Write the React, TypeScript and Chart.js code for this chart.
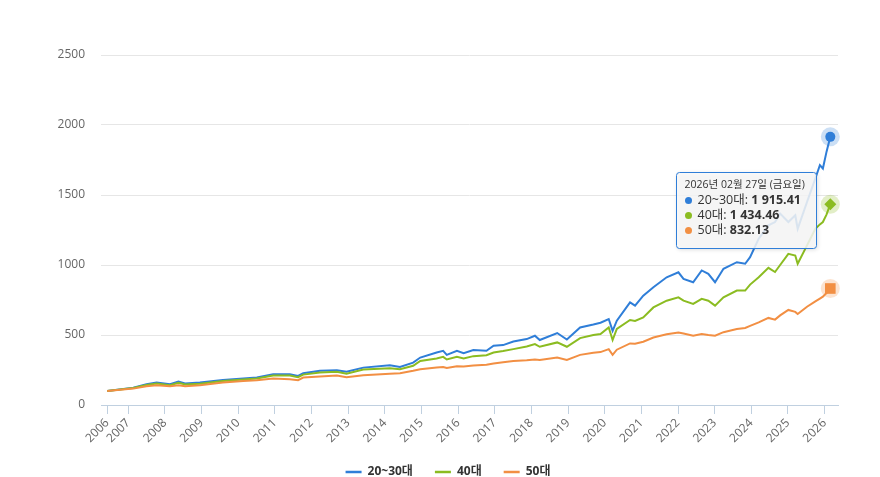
import { useEffect, useRef } from "react";
import { Chart, registerables } from "chart.js";

Chart.register(...registerables);

// ---- data (index, start = 100) ----
const dates = [
  "2006-06-05", "2007-02-20", "2007-07-01", "2007-10-10", "2008-02-20", "2008-05-15",
  "2008-07-20", "2008-12-15", "2009-08-01", "2010-02-20", "2010-07-05", "2010-12-15",
  "2011-05-30", "2011-08-20", "2011-10-10", "2012-03-25", "2012-09-10", "2012-12-15",
  "2013-06-01", "2014-02-20", "2014-06-01", "2014-10-10", "2014-12-20", "2015-06-01",
  "2015-08-05", "2015-09-10", "2015-12-20", "2016-02-25", "2016-06-01", "2016-10-10",
  "2016-12-20", "2017-03-25", "2017-07-05", "2017-11-15", "2018-02-05", "2018-03-25",
  "2018-09-15", "2018-12-20", "2019-05-01", "2019-09-10", "2019-11-20", "2020-02-10",
  "2020-03-20", "2020-05-01", "2020-09-10", "2020-10-30", "2021-01-20", "2021-05-01",
  "2021-09-10", "2022-01-05", "2022-02-25", "2022-06-01", "2022-08-25", "2022-10-30",
  "2023-01-05", "2023-03-30", "2023-08-10", "2023-11-01", "2023-12-20", "2024-03-15",
  "2024-06-20", "2024-08-25", "2024-10-15", "2025-01-05", "2025-03-15", "2025-04-08",
  "2025-07-10", "2025-10-01", "2025-11-15", "2025-12-15", "2026-01-20", "2026-02-27",
];

const age2030 = [
  100, 124, 148, 160, 148, 167, 153, 160, 179, 189, 196, 220,
  220, 208, 227, 244, 249, 237, 267, 284, 272, 303, 339, 375,
  387, 358, 387, 370, 392, 387, 423, 428, 454, 471, 495, 464,
  514, 468, 554, 575, 588, 614, 530, 602, 733, 710, 781, 841,
  912, 948, 901, 877, 961, 937, 877, 973, 1020, 1009, 1056, 1188,
  1283, 1307, 1367, 1307, 1355, 1259, 1450, 1618, 1713, 1689, 1808, 1915.41,
];

const age40 = [
  100, 121, 143, 153, 142, 158, 146, 152, 172, 183, 190, 210,
  211, 199, 217, 232, 237, 224, 253, 263, 256, 280, 315, 332,
  344, 325, 344, 332, 349, 356, 375, 385, 399, 418, 435, 416,
  447, 416, 478, 500, 507, 554, 464, 543, 607, 600, 626, 697,
  745, 769, 745, 722, 758, 745, 710, 769, 817, 817, 860, 912,
  980, 950, 1000, 1080, 1068, 1009, 1140, 1259, 1290, 1307, 1360, 1434.46,
];

const age50 = [
  100, 117, 134, 141, 134, 141, 134, 141, 160, 172, 177, 189,
  184, 177, 196, 203, 210, 199, 213, 224, 227, 244, 256, 267,
  272, 265, 277, 275, 282, 287, 296, 305, 315, 320, 325, 322,
  339, 322, 358, 373, 378, 399, 358, 395, 440, 437, 452, 482,
  505, 518, 510, 495, 507, 500, 495, 520, 543, 550, 565, 590,
  622, 610, 640, 679, 665, 650, 702, 740, 760, 774, 800, 832.13,
];

const seriesNames = ["20~30대", "40대", "50대"];
const seriesColors = ["#2f7ed8", "#8bbc21", "#f28f43"];
const seriesMarkers = ["circle", "rectRot", "rect"];
const yTickValues = [0, 500, 1000, 1500, 2000, 2500];
const xTickYears = [
  2007, 2008, 2009, 2010, 2011, 2012, 2013, 2014, 2015, 2016,
  2017, 2018, 2019, 2020, 2021, 2022, 2023, 2024, 2025, 2026,
];
const tooltipTitle = "2026년 02월 27일 (금요일)";

const FONT = "'Open Sans', 'Noto Sans CJK KR', sans-serif";

const toYear = (s: string) => {
  const [y, m, d] = s.split("-").map(Number);
  const t = Date.UTC(y, m - 1, d);
  const a = Date.UTC(y, 0, 1);
  const b = Date.UTC(y + 1, 0, 1);
  return y + (t - a) / (b - a);
};

const fmt = (v: number) => {
  const [i, d] = v.toFixed(2).split(".");
  return i.replace(/\B(?=(\d{3})+(?!\d))/g, " ") + "." + d;
};

const hexA = (hex: string, a: number) => {
  const n = parseInt(hex.slice(1), 16);
  return `rgba(${(n >> 16) & 255},${(n >> 8) & 255},${n & 255},${a})`;
};

const haloPlugin = {
  id: "halo",
  beforeDatasetsDraw(chart: any) {
    const ctx = chart.ctx;
    chart.data.datasets.forEach((ds: any, i: number) => {
      const meta = chart.getDatasetMeta(i);
      const el = meta.data[meta.data.length - 1];
      if (!el) return;
      ctx.save();
      ctx.beginPath();
      ctx.arc(el.x, el.y, 9.5, 0, Math.PI * 2);
      ctx.fillStyle = hexA(seriesColors[i], 0.25);
      ctx.fill();
      ctx.restore();
    });
  },
};

const tooltipPlugin = {
  id: "staticTooltip",
  afterDraw(chart: any) {
    const ctx = chart.ctx;
    const n = chart.data.datasets[0].data.length;
    const p0 = chart.getDatasetMeta(0).data[n - 1];
    if (!p0) return;
    ctx.save();
    const titleFont = `10.5px ${FONT}`;
    const normFont = `12.5px ${FONT}`;
    const boldFont = `bold 12.5px ${FONT}`;
    ctx.font = titleFont;
    let maxW = ctx.measureText(tooltipTitle).width;
    const rows = chart.data.datasets.map((ds: any, i: number) => {
      const label = seriesNames[i] + ": ";
      const val = fmt(ds.data[n - 1].y);
      ctx.font = normFont;
      const lw = ctx.measureText(label).width;
      ctx.font = boldFont;
      const vw = ctx.measureText(val).width;
      maxW = Math.max(maxW, 13 + lw + vw);
      return { label, val, lw };
    });
    const w = Math.round(maxW + 20);
    const h = 76;
    const right = Math.round(p0.x - 14);
    const left = right - w + 0.5;
    const top = Math.round(p0.y + 35) + 0.5;
    const r = 3;
    const path = () => {
      ctx.beginPath();
      ctx.moveTo(left + r, top);
      ctx.lineTo(left + w - r, top);
      ctx.quadraticCurveTo(left + w, top, left + w, top + r);
      ctx.lineTo(left + w, top + h - r);
      ctx.quadraticCurveTo(left + w, top + h, left + w - r, top + h);
      ctx.lineTo(left + r, top + h);
      ctx.quadraticCurveTo(left, top + h, left, top + h - r);
      ctx.lineTo(left, top + r);
      ctx.quadraticCurveTo(left, top, left + r, top);
      ctx.closePath();
    };
    ctx.shadowColor = "rgba(0,0,0,0.18)";
    ctx.shadowBlur = 4;
    ctx.shadowOffsetX = 1;
    ctx.shadowOffsetY = 1;
    path();
    ctx.fillStyle = "rgba(249,249,249,0.85)";
    ctx.fill();
    ctx.shadowColor = "transparent";
    ctx.strokeStyle = seriesColors[0];
    ctx.lineWidth = 1;
    path();
    ctx.stroke();

    ctx.textBaseline = "middle";
    ctx.textAlign = "left";
    ctx.fillStyle = "#333";
    ctx.font = titleFont;
    ctx.fillText(tooltipTitle, left + 8, top + 13);
    rows.forEach((row: any, i: number) => {
      const cy = top + 28 + i * 15;
      ctx.beginPath();
      ctx.arc(left + 12, cy, 3.5, 0, Math.PI * 2);
      ctx.fillStyle = seriesColors[i];
      ctx.fill();
      ctx.fillStyle = "#333";
      ctx.font = normFont;
      ctx.fillText(row.label, left + 21, cy);
      ctx.font = boldFont;
      ctx.fillText(row.val, left + 21 + row.lw, cy);
    });
    ctx.restore();
  },
};

export default function App() {
  const ref = useRef<HTMLCanvasElement>(null);

  useEffect(() => {
    const canvas = ref.current;
    if (!canvas) return;
    const xs = dates.map(toYear);
    const startX = xs[0];
    const lastIdx = dates.length - 1;
    const allSeries = [age2030, age40, age50];
    const markerRadius = [5, 6, 7.5];

    const chart = new Chart(canvas, {
      type: "line",
      data: {
        datasets: allSeries.map((vals, i) => ({
          label: seriesNames[i],
          data: vals.map((v, k) => ({ x: xs[k], y: v })),
          borderColor: seriesColors[i],
          backgroundColor: seriesColors[i],
          borderWidth: 2,
          tension: 0,
          fill: false,
          order: 3 - i,
          pointStyle: seriesMarkers[i] as any,
          pointRadius: (c: any) => (c.dataIndex === lastIdx ? markerRadius[i] : 0),
          pointHoverRadius: (c: any) => (c.dataIndex === lastIdx ? markerRadius[i] : 0),
          pointBorderWidth: 0,
          pointBackgroundColor: seriesColors[i],
        })),
      },
      options: {
        animation: false,
        responsive: true,
        maintainAspectRatio: false,
        events: [],
        layout: { padding: { top: 55, left: 16, right: 0, bottom: 0 } },
        scales: {
          x: {
            type: "linear",
            min: 2006.255,
            max: 2026.366,
            afterBuildTicks: (scale: any) => {
              scale.ticks = [startX, ...xTickYears].map((v) => ({ value: v }));
            },
            afterFit: (scale: any) => {
              scale.height = 39;
            },
            ticks: {
              autoSkip: false,
              minRotation: 45,
              maxRotation: 45,
              padding: 2,
              color: "#666",
              font: { family: FONT, size: 12 },
              callback: (v: any) => String(Math.floor(Number(v))),
            },
            grid: {
              display: true,
              drawOnChartArea: false,
              drawTicks: true,
              tickLength: 9,
              tickColor: "#c0d0e0",
              color: "#c0d0e0",
            },
            border: { display: true, color: "#c0d0e0", width: 1 },
          },
          y: {
            type: "linear",
            min: 0,
            max: 2500,
            afterBuildTicks: (scale: any) => {
              scale.ticks = yTickValues.map((v) => ({ value: v }));
            },
            afterFit: (scale: any) => {
              scale.width = 85;
            },
            ticks: {
              padding: 16,
              color: "#666",
              font: { family: FONT, size: 12 },
              callback: (v: any) => String(v),
            },
            grid: {
              drawTicks: false,
              color: (c: any) => (c.tick && c.tick.value === 0 ? "rgba(0,0,0,0)" : "#e6e6e6"),
            },
            border: { display: false },
          },
          yRight: {
            type: "linear",
            position: "right",
            display: true,
            ticks: { display: false },
            grid: { display: false, drawTicks: false },
            border: { display: false },
            afterFit: (scale: any) => {
              scale.width = 42;
            },
          },
        },
        plugins: {
          tooltip: { enabled: false },
          legend: {
            display: true,
            position: "bottom",
            labels: {
              usePointStyle: true,
              pointStyleWidth: 16,
              padding: 22,
              color: "#333",
              font: { family: FONT, size: 12, weight: "bold" },
              generateLabels: () =>
                seriesNames.map((name, i) => ({
                  text: name,
                  fillStyle: seriesColors[i],
                  strokeStyle: seriesColors[i],
                  lineWidth: 2.5,
                  pointStyle: "line",
                  hidden: false,
                  datasetIndex: i,
                  fontColor: "#333",
                })),
            },
          },
        },
      } as any,
      plugins: [haloPlugin, tooltipPlugin],
    });
    return () => chart.destroy();
  }, []);

  return (
    <div style={{ position: "fixed", left: 0, top: 0, width: 880, height: 477, overflow: "hidden", background: "#fff" }}>
      <div style={{ position: "relative", width: 880, height: 488 }}>
        <canvas ref={ref} />
      </div>
    </div>
  );
}
